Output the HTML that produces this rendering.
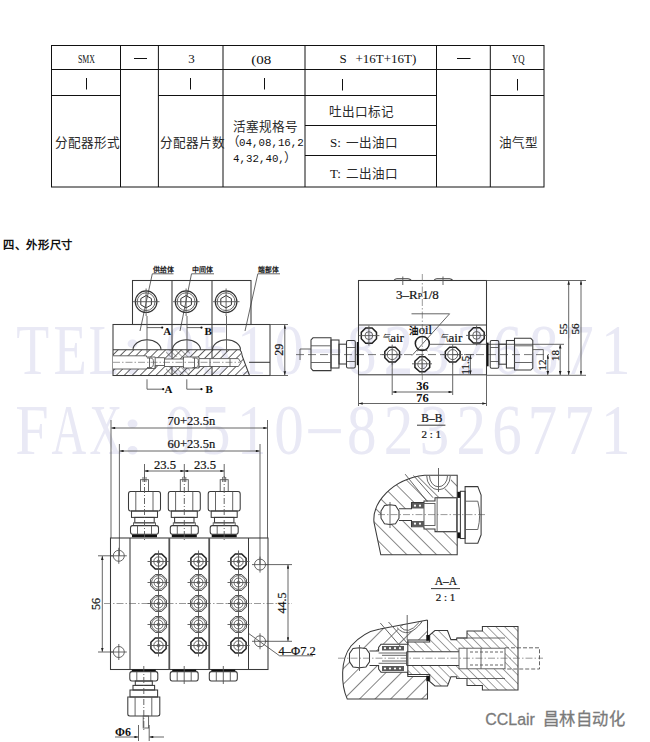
<!DOCTYPE html>
<html lang="zh-CN"><head><meta charset="utf-8">
<style>
html,body{margin:0;padding:0;background:#fff;}
body{width:650px;height:742px;overflow:hidden;position:relative;font-family:"Liberation Serif",serif;}
svg{position:absolute;left:0;top:0;display:block;}
.wm{font-family:"Liberation Serif",serif;font-size:72px;fill:#e9e9f5;}
.tb{stroke:#111;stroke-width:1;fill:none;}
.t13{font-family:"Liberation Serif",serif;font-size:13px;fill:#111;font-weight:300;}
.ln{stroke:#3a3a3a;stroke-width:1.05;fill:none;}
.th{stroke:#555;stroke-width:0.9;fill:none;}
.cl{stroke:#555;stroke-width:0.6;fill:none;stroke-dasharray:7 2 1.5 2;}
.dt{font-family:"Liberation Serif",serif;fill:#222;}
</style></head>
<body>
<svg width="650" height="742" viewBox="0 0 650 742">
<defs>
 <marker id="ar" viewBox="0 0 6 4" refX="6" refY="2" markerWidth="4.6" markerHeight="2.6" orient="auto-start-reverse" markerUnits="userSpaceOnUse"><path d="M0,0 L6,2 L0,4z" fill="#222"/></marker>
 <pattern id="h45" width="11" height="11" patternUnits="userSpaceOnUse" patternTransform="rotate(45)"><line x1="0" y1="0" x2="0" y2="11" stroke="#2a2a2a" stroke-width="1.15"/></pattern>
 <pattern id="h135b" width="6.2" height="6.2" patternUnits="userSpaceOnUse" patternTransform="rotate(-45)"><line x1="0" y1="0" x2="0" y2="6.2" stroke="#333" stroke-width="0.9"/></pattern>
 <pattern id="h135" width="10.5" height="10.5" patternUnits="userSpaceOnUse" patternTransform="rotate(-45)"><line x1="0" y1="0" x2="0" y2="10.5" stroke="#2a2a2a" stroke-width="1.1"/></pattern>
 <pattern id="hs" width="5.6" height="5.6" patternUnits="userSpaceOnUse" patternTransform="rotate(45)"><line x1="0" y1="0" x2="0" y2="5.6" stroke="#333" stroke-width="1.5"/></pattern>
 <pattern id="hsr" width="4" height="4" patternUnits="userSpaceOnUse" patternTransform="rotate(-45)"><line x1="0" y1="0" x2="0" y2="4" stroke="#444" stroke-width="0.9"/></pattern>
</defs>

<!-- WATERMARK -->
<g class="wm">
<text transform="translate(16.3 374) scale(0.748 1)">T</text>
<text transform="translate(53.5 374) scale(0.755 1)">E</text>
<text transform="translate(88.8 374) scale(0.705 1)">L</text>
<text transform="translate(121.0 374) scale(1.163 1)">:</text>
<text transform="translate(165.0 374) scale(0.82 1)">0</text>
<text transform="translate(201.0 374) scale(0.82 1)">5</text>
<text transform="translate(237.0 374) scale(0.82 1)">1</text>
<text transform="translate(274.2 374) scale(0.82 1)">0</text>
<rect x="308.2" y="349.1" width="32.7" height="4.1"/>
<text transform="translate(347.0 374) scale(0.82 1)">8</text>
<text transform="translate(383.8 374) scale(0.82 1)">2</text>
<text transform="translate(419.8 374) scale(0.82 1)">3</text>
<text transform="translate(456.6 374) scale(0.82 1)">2</text>
<text transform="translate(492.2 374) scale(0.82 1)">6</text>
<text transform="translate(529.0 374) scale(0.82 1)">8</text>
<text transform="translate(564.2 374) scale(0.82 1)">7</text>
<text transform="translate(601.0 374) scale(0.82 1)">1</text>
<text transform="translate(15.3 454) scale(0.833 1)">F</text>
<text transform="translate(51.6 454) scale(0.667 1)">A</text>
<text transform="translate(89.6 454) scale(0.628 1)">X</text>
<text transform="translate(121.0 454) scale(1.163 1)">:</text>
<text transform="translate(165.0 454) scale(0.82 1)">0</text>
<text transform="translate(201.0 454) scale(0.82 1)">5</text>
<text transform="translate(237.0 454) scale(0.82 1)">1</text>
<text transform="translate(274.2 454) scale(0.82 1)">0</text>
<rect x="308.2" y="429.1" width="32.7" height="4.1"/>
<text transform="translate(347.0 454) scale(0.82 1)">8</text>
<text transform="translate(383.8 454) scale(0.82 1)">2</text>
<text transform="translate(419.8 454) scale(0.82 1)">3</text>
<text transform="translate(456.6 454) scale(0.82 1)">2</text>
<text transform="translate(492.2 454) scale(0.82 1)">6</text>
<text transform="translate(527.8 454) scale(0.82 1)">7</text>
<text transform="translate(564.2 454) scale(0.82 1)">7</text>
<text transform="translate(601.0 454) scale(0.82 1)">1</text>
</g>

<!-- TABLE -->
<g class="tb">
 <rect x="51.5" y="45.5" width="492.5" height="141.5"/>
 <line x1="120.5" y1="45.5" x2="120.5" y2="187"/>
 <line x1="158.4" y1="45.5" x2="158.4" y2="187"/>
 <line x1="223" y1="45.5" x2="223" y2="187"/>
 <line x1="305" y1="45.5" x2="305" y2="187"/>
 <line x1="436.5" y1="45.5" x2="436.5" y2="187"/>
 <line x1="490.3" y1="45.5" x2="490.3" y2="187"/>
 <line x1="51.5" y1="69.5" x2="544" y2="69.5"/>
 <line x1="51.5" y1="95.5" x2="120.5" y2="95.5"/>
 <line x1="158.4" y1="95.5" x2="436.5" y2="95.5"/>
 <line x1="490.3" y1="95.5" x2="544" y2="95.5"/>
 <line x1="305" y1="125.5" x2="436.5" y2="125.5"/>
 <line x1="305" y1="155.5" x2="436.5" y2="155.5"/>
</g>
<g class="t13">
 <text x="86.5" y="62.8" text-anchor="middle" textLength="17" lengthAdjust="spacingAndGlyphs" style="font-size:12.8px">SMX</text>
 <line x1="134" y1="58.5" x2="147" y2="58.5" stroke="#111" stroke-width="1"/>
 <text x="191.5" y="63.2" text-anchor="middle">3</text>
 <text x="251.3" y="64" textLength="20" lengthAdjust="spacingAndGlyphs" style="font-size:13.5px">(08</text>
 <text x="339.5" y="63">S</text>
 <text x="355.5" y="63">+16T+16T)</text>
 <line x1="457" y1="58.5" x2="470.5" y2="58.5" stroke="#111" stroke-width="1"/>
 <text x="518.3" y="63.2" text-anchor="middle" textLength="12.6" lengthAdjust="spacingAndGlyphs" style="font-size:12.8px">YQ</text>
 <line x1="86.5" y1="78" x2="86.5" y2="89.5" stroke="#111" stroke-width="1"/>
 <line x1="190.5" y1="78" x2="190.5" y2="89.5" stroke="#111" stroke-width="1"/>
 <line x1="264.5" y1="78" x2="264.5" y2="89.5" stroke="#111" stroke-width="1"/>
 <line x1="342.5" y1="79" x2="342.5" y2="90.5" stroke="#111" stroke-width="1"/>
 <line x1="517.5" y1="79" x2="517.5" y2="90.5" stroke="#111" stroke-width="1"/>
 <g style="fill:#2a2a2a;font-size:12.6px">
 <text x="55.3" y="147">分配器形式</text>
 <text x="159.8" y="147">分配器片数</text>
 <text x="233" y="130.6">活塞规格号</text>
 <text x="227" y="146">（</text>
 <text x="284" y="162">）</text>
 <text x="328.5" y="116">吐出口标记</text>
 <text x="346" y="146.5">一出油口</text>
 <text x="346" y="177.5">二出油口</text>
 <text x="499.3" y="147">油气型</text>
 </g>
 <g style="font-family:'Liberation Mono',monospace;font-size:10.8px;fill:#111">
 <text x="239" y="145.8">04,08,16,2</text>
 <text x="233" y="161.8">4,32,40,</text>
 </g>
 <text x="330" y="146.5">S:</text>
 <text x="330" y="177.5">T:</text>
</g>

<!-- HEADING -->
<text x="3" y="248.8" textLength="70" lengthAdjust="spacingAndGlyphs" style="font-family:'Liberation Sans',sans-serif;font-size:11.6px;font-weight:bold;fill:#111">四、外形尺寸</text>

<!-- SIDE VIEW -->
<g id="sv">
 <g style="font-size:7px;fill:#222;font-weight:bold" font-family="Liberation Serif, serif">
  <text x="152.5" y="272.3" textLength="21" lengthAdjust="spacingAndGlyphs">供给体</text>
  <text x="191.8" y="272.3" textLength="21" lengthAdjust="spacingAndGlyphs">中间体</text>
  <text x="258.2" y="272.3" textLength="20.5" lengthAdjust="spacingAndGlyphs">端部体</text>
 </g>
 <g class="th">
  <polyline points="173.5,273.8 152.3,273.8 140,331"/>
  <polyline points="214,273.8 191.5,273.8 180,331"/>
  <polyline points="280,273.8 257.8,273.8 245,331"/>
 </g>
 <g class="ln">
  <rect x="132.5" y="280.5" width="118.5" height="44"/>
  <line x1="172" y1="280.5" x2="172" y2="375.5"/>
  <line x1="212" y1="280.5" x2="212" y2="375.5"/>
  <rect x="113" y="324.5" width="157" height="51"/>
  <line x1="249" y1="362.3" x2="270" y2="362.3"/>
 </g>
 <!-- circles -->
 <g id="c1" class="th">
  <circle cx="146.1" cy="301.7" r="10.8" style="stroke:#333;stroke-width:1.2"/>
  <circle cx="146.1" cy="301.7" r="8.9"/>
  <polygon points="146.1,295.5 151.4,298.6 151.4,304.8 146.1,307.9 140.8,304.8 140.8,298.6" style="stroke:#333;stroke-width:1"/>
  <line x1="133" y1="301.7" x2="159.5" y2="301.7"/>
  <line x1="146.1" y1="288.5" x2="146.1" y2="316"/>
 </g>
 <use href="#c1" x="40"/>
 <use href="#c1" x="80"/>
 <!-- hatched section -->
 <path d="M113,349.8 H240 Q242.2,352 242.2,356 L249.5,375.5 H113 Z" fill="url(#hs)" stroke="none"/>
 <path d="M166,349.8 H190 V357 H166 Z M166,366.5 H190 V375.5 H166 Z" fill="url(#hsr)" stroke="none"/>
 <path d="M113,355.8 H146.5 V357 H155.2 V357.7 H164.5 V359 H183.4 V357 H199 V358.6 H238.4 L241,362.5 L238.4,366.5 H199 V368 H183.4 V366.5 H164.5 V365.5 H155.2 V368.5 H146.5 V369 H113 Z" fill="#fff" stroke="none"/>
 <g class="ln">
  <path d="M113,349.8 H240 Q242.2,352 242.2,356 L249.5,375.5" fill="none"/>
  <path d="M113,355.8 H146.5 V357 H155.2 V357.7 H164.5 V359 H183.4 V357 H199 V358.6 H238.4 L241,362.5 L238.4,366.5 H199 V368 H183.4 V366.5 H164.5 V365.5 H155.2 V368.5 H146.5 V369 H113" fill="none" class="th"/>
  <line x1="155.2" y1="357.7" x2="155.2" y2="368.5" class="th"/>
  <line x1="164.5" y1="359" x2="164.5" y2="366.5" class="th"/>
  <line x1="183.4" y1="357" x2="183.4" y2="368" class="th"/>
  <line x1="199" y1="358.6" x2="199" y2="368" class="th"/>
  <line x1="210" y1="358.6" x2="210" y2="366.5" class="th"/>
  <line x1="230" y1="358.6" x2="230" y2="366.5" class="th"/>
  <path d="M147,358 H151 Q153.5,358 153.5,362.5 Q153.5,367.5 151,367.5 H147" class="th"/>
  <path d="M192.5,358 H196 Q198.5,358 198.5,362.5 Q198.5,367.5 196,367.5 H192.5" class="th"/>
  <line x1="149.5" y1="358" x2="149.5" y2="367.5" class="th"/>
  <line x1="194.5" y1="358" x2="194.5" y2="367.5" class="th"/>
 </g>
 <line x1="113" y1="362.3" x2="240" y2="362.3" class="cl"/>
 <!-- domes -->
 <g class="ln">
  <path d="M133,349.8 A14,10 0 0,1 161,349.8"/>
  <path d="M172.5,349.8 A14,10 0 0,1 200.5,349.8"/>
  <path d="M212.5,349.8 A14,10 0 0,1 240.5,349.8"/>
 </g>
 <!-- section marks -->
 <g class="th">
  <line x1="147" y1="316" x2="147" y2="352"/>
  <line x1="187" y1="316" x2="187" y2="352"/>
  <line x1="226.5" y1="316" x2="226.5" y2="352"/>
  <polyline points="147,379.3 147,389.2 163,389.2"/>
  <polyline points="186.8,379.3 186.8,389.2 201.5,389.2"/>
  <line x1="147" y1="327.6" x2="162" y2="327.6"/>
  <line x1="187" y1="327.6" x2="201.5" y2="327.6"/>
 </g>
 <g fill="#111">
  <circle cx="162.2" cy="327.6" r="1.1"/><circle cx="201.5" cy="327.6" r="1.1"/>
  <circle cx="163.2" cy="389.2" r="1.1"/><circle cx="201.5" cy="389.2" r="1.1"/>
 </g>
 <g style="font-size:11px;fill:#111;font-weight:bold" font-family="Liberation Serif, serif">
  <text x="163.3" y="335.4">A</text><text x="204.5" y="335.4">B</text>
  <text x="164.5" y="393">A</text><text x="205.5" y="393">B</text>
 </g>
 <!-- dim 29 -->
 <g class="th">
  <line x1="270" y1="324.5" x2="288" y2="324.5"/>
  <line x1="270" y1="375.5" x2="288" y2="375.5"/>
  <line x1="284.8" y1="324.8" x2="284.8" y2="375.2" marker-start="url(#ar)" marker-end="url(#ar)"/>
 </g>
 <text transform="translate(283.2 349.7) rotate(-90)" text-anchor="middle" style="font-size:12px;fill:#111;font-weight:normal;stroke:#1a1a1a;stroke-width:0.22px" font-family="Liberation Serif, serif">29</text>
</g>

<!-- FRONT VIEW -->
<g id="fv">
 <defs>
  <g id="hexnut">
   <polygon points="-7.6,-3.2 -3.2,-7.6 3.2,-7.6 7.6,-3.2 7.6,3.2 3.2,7.6 -3.2,7.6 -7.6,3.2" stroke="#222" stroke-width="1.5" fill="none"/>
   <circle r="3.9" class="th"/>
   <line x1="-10.5" y1="0" x2="10.5" y2="0" class="th"/>
   <line x1="0" y1="-10" x2="0" y2="10" class="th" stroke="#999"/>
  </g>
  <g id="airport">
   <polygon points="-7.4,-3.1 -3.1,-7.4 3.1,-7.4 7.4,-3.1 7.4,3.1 3.1,7.4 -3.1,7.4 -7.4,3.1" stroke="#222" stroke-width="1.5" fill="none"/>
   <circle r="5" class="th"/>
   <line x1="-10" y1="0" x2="10" y2="0" class="th"/>
   <line x1="0" y1="-10" x2="0" y2="10" class="th"/>
  </g>
 </defs>
 <g class="ln">
  <rect x="358.5" y="280.5" width="128" height="94.3"/>
  <line x1="358.5" y1="325" x2="486.5" y2="325"/>
  <path d="M394,280.5 Q395,278.8 397,278.8 H408 Q410,278.8 411.5,280.5" />
  <path d="M434,280.5 Q435,278.8 437,278.8 H449.5 Q451.5,278.8 453,280.5" />
 </g>
 <g class="th">
  <line x1="402.8" y1="276.5" x2="402.8" y2="285"/>
  <line x1="443" y1="276.5" x2="443" y2="285"/>
  <polyline points="411.5,313.8 449.6,313.8 412,355.5"/>
  <line x1="486.5" y1="280.5" x2="586" y2="280.5"/>
  <line x1="486.5" y1="375.3" x2="586" y2="375.3"/>
  <line x1="430" y1="344.3" x2="564" y2="344.3"/>
  <line x1="358.5" y1="374.8" x2="358.5" y2="406"/>
  <line x1="486.5" y1="374.8" x2="486.5" y2="406"/>
  <line x1="392.2" y1="362" x2="392.2" y2="395"/>
  <line x1="452.7" y1="362" x2="452.7" y2="395"/>
  <line x1="392.5" y1="392" x2="452.4" y2="392" marker-start="url(#ar)" marker-end="url(#ar)"/>
  <line x1="358.8" y1="403.5" x2="486.2" y2="403.5" marker-start="url(#ar)" marker-end="url(#ar)"/>
  <line x1="470.4" y1="355" x2="470.4" y2="374.5" marker-start="url(#ar)" marker-end="url(#ar)"/>
  <line x1="547.8" y1="354.8" x2="547.8" y2="375" marker-start="url(#ar)" marker-end="url(#ar)"/>
  <line x1="560.2" y1="344.6" x2="560.2" y2="375" marker-start="url(#ar)" marker-end="url(#ar)"/>
  <line x1="568.7" y1="280.8" x2="568.7" y2="375" marker-start="url(#ar)" marker-end="url(#ar)"/>
  <line x1="581" y1="280.8" x2="581" y2="375" marker-start="url(#ar)" marker-end="url(#ar)"/>
  <line x1="466" y1="354.6" x2="474" y2="354.6"/>
 </g>
 <line x1="422.3" y1="274" x2="422.3" y2="380" class="cl"/>
 <line x1="296" y1="354.6" x2="549" y2="354.6" style="stroke:#555;stroke-width:0.8;stroke-dasharray:8 4;fill:none"/>
 <use href="#hexnut" x="368.9" y="335.6"/>
 <use href="#hexnut" x="476.6" y="335.4"/>
 <use href="#airport" x="392.2" y="354.6"/>
 <use href="#airport" x="452.7" y="354.6"/>
 <g class="ln">
  <circle cx="422.3" cy="343.5" r="7" stroke="#222" stroke-width="1.5"/>
  <path d="M417,351 Q422.3,347.5 427.5,351" class="th"/>
  <polygon points="414.9,361.3 419.8,356.8 424.8,356.8 429.7,361.3 429.7,367.3 424.8,371.8 419.8,371.8 414.9,367.3" stroke="#222" stroke-width="1.5"/>
 </g>
 <g class="th">
  <circle cx="422.3" cy="364.3" r="4.5"/>
  <line x1="412" y1="363.8" x2="432" y2="363.8"/>
  <line x1="422" y1="354" x2="422" y2="374"/>
 </g>
 <!-- left fitting -->
 <g class="ln">
  <rect x="356.8" y="342" width="1.8" height="23.2" fill="#111" stroke="none"/>
  <rect x="346.5" y="340.5" width="8.8" height="27.5" rx="1.5"/>
  <line x1="346.5" y1="347.5" x2="355.3" y2="347.5" class="th"/>
  <line x1="346.5" y1="361.5" x2="355.3" y2="361.5" class="th"/>
  <rect x="339" y="344.2" width="7.5" height="19.8"/>
  <rect x="331" y="340" width="8" height="28"/>
  <path d="M331,337.8 H313 L311,340 V368.4 L313,370.6 H331 Z"/>
  <line x1="311" y1="345.8" x2="331" y2="345.8" class="th"/>
  <line x1="311" y1="362.5" x2="331" y2="362.5" class="th"/>
  <polyline points="311,349 300,349 300,360" class="th"/>
 </g>
 <!-- right fitting -->
 <g class="ln">
  <rect x="486.8" y="342.6" width="1.8" height="23.7" fill="#111" stroke="none"/>
  <rect x="490.2" y="340.5" width="8.6" height="27.7" rx="1.5"/>
  <line x1="490.2" y1="347.5" x2="498.8" y2="347.5" class="th"/>
  <line x1="490.2" y1="361.5" x2="498.8" y2="361.5" class="th"/>
  <rect x="498.8" y="344.2" width="7.6" height="20"/>
  <rect x="506.4" y="340.5" width="8.1" height="27.5"/>
  <path d="M514.5,338.3 H530.8 L532.8,340.5 V368 L530.8,370 H514.5 Z"/>
  <line x1="514.5" y1="345.8" x2="532.8" y2="345.8" class="th"/>
  <line x1="514.5" y1="362.5" x2="532.8" y2="362.5" class="th"/>
  <polyline points="532.8,349.6 543.3,349.6 543.3,360" class="th"/>
 </g>
 <g style="fill:#111;font-weight:bold" font-family="Liberation Serif, serif">
  <text x="396" y="299" style="font-size:13px;font-weight:normal;stroke:#1a1a1a;stroke-width:0.22px">3–R<tspan style="font-size:8px">P</tspan>1/8</text>
  <text x="409.3" y="334" style="font-size:9.5px">油</text>
  <text x="418.8" y="333.5" style="font-size:12.5px;font-weight:normal;stroke:#1a1a1a;stroke-width:0.22px">oil</text>
  <text x="383" y="340.5" style="font-size:8px;font-weight:normal">气</text>
  <text x="390.2" y="342" style="font-size:13px;font-weight:normal;stroke:#1a1a1a;stroke-width:0.22px">air</text>
  <text x="441.3" y="340.5" style="font-size:8px;font-weight:normal">气</text>
  <text x="448.5" y="342" style="font-size:13px;font-weight:normal;stroke:#1a1a1a;stroke-width:0.22px">air</text>
  <text x="422.5" y="390" text-anchor="middle" style="font-size:12.5px">36</text>
  <text x="422.5" y="402.3" text-anchor="middle" style="font-size:12.5px">76</text>
  <text transform="translate(469.2 365.2) rotate(-90)" text-anchor="middle" style="font-size:11px;font-weight:normal;stroke:#1a1a1a;stroke-width:0.22px">11.5</text>
  <text transform="translate(546 365) rotate(-90)" text-anchor="middle" style="font-size:11px;font-weight:normal;stroke:#1a1a1a;stroke-width:0.22px">12</text>
  <text transform="translate(558.5 355.5) rotate(-90)" text-anchor="middle" style="font-size:11px;font-weight:normal;stroke:#1a1a1a;stroke-width:0.22px">18</text>
  <text transform="translate(566.6 329) rotate(-90)" text-anchor="middle" style="font-size:11px;font-weight:normal;stroke:#1a1a1a;stroke-width:0.22px">55</text>
  <text transform="translate(578.8 329) rotate(-90)" text-anchor="middle" style="font-size:11px;font-weight:normal;stroke:#1a1a1a;stroke-width:0.22px">56</text>
 </g>
</g>

<!-- TOP VIEW -->
<g id="tv">
 <defs>
  <g id="port">
   <polygon points="-7.6,-3.2 -3.2,-7.6 3.2,-7.6 7.6,-3.2 7.6,3.2 3.2,7.6 -3.2,7.6 -7.6,3.2" stroke="#222" stroke-width="1.5" fill="none"/>
   <circle r="4.7" class="th"/>
   <circle r="1.5" class="th"/>
   <line x1="-11" y1="0" x2="11" y2="0" class="th"/>
   <line x1="0" y1="-11" x2="0" y2="11" class="th"/>
  </g>
  <g id="port2">
   <polygon points="-7.9,-3.3 -3.3,-7.9 3.3,-7.9 7.9,-3.3 7.9,3.3 3.3,7.9 -3.3,7.9 -7.9,3.3" stroke="#444" stroke-width="1" fill="none"/>
   <circle r="6.9" class="th"/>
   <circle r="4.5" class="th"/>
   <circle r="1.5" class="th"/>
   <line x1="-11" y1="0" x2="11" y2="0" class="th"/>
   <line x1="0" y1="-11" x2="0" y2="11" class="th"/>
  </g>
  <g id="mhole">
   <circle r="5.5" class="th"/>
   <line x1="-8" y1="0" x2="8" y2="0" class="th"/>
   <line x1="0" y1="-8" x2="0" y2="8" class="th"/>
  </g>
  <g id="topfit">
   <rect x="-4" y="479.7" width="8" height="11.8" class="th"/>
   <line x1="-1.5" y1="477" x2="-1.5" y2="482" class="th"/>
   <line x1="1.5" y1="477" x2="1.5" y2="482" class="th"/>
   <path d="M-14,491.5 H14 Q16,491.5 16,494 V508.5 Q16,511 14,511 H-14 Q-16,511 -16,508.5 V494 Q-16,491.5 -14,491.5 Z" class="ln"/>
   <line x1="-8.7" y1="491.5" x2="-8.7" y2="511" class="th"/>
   <line x1="8.5" y1="491.5" x2="8.5" y2="511" class="th"/>
   <rect x="-13" y="511" width="26" height="6.4" class="ln"/>
   <rect x="-9.7" y="517.4" width="19.4" height="5.4" class="ln"/>
   <rect x="-11" y="522.8" width="22" height="2.8" class="th"/>
   <path d="M-12,525.6 H12 Q14,525.6 14,528 V531.8 Q14,534.2 12,534.2 H-12 Q-14,534.2 -14,531.8 V528 Q-14,525.6 -12,525.6 Z" class="ln"/>
   <line x1="-7" y1="525.6" x2="-7" y2="534.2" class="th"/>
   <line x1="7" y1="525.6" x2="7" y2="534.2" class="th"/>
   <rect x="-12.5" y="534.6" width="25" height="2.6" fill="#111"/>
   <line x1="0" y1="476" x2="0" y2="540" class="th" stroke-dasharray="6 2 1 2"/>
  </g>
  <g id="botnut">
   <rect x="-12" y="669.6" width="24" height="2" fill="#111"/>
   <path d="M-12,671.6 H12 Q14,671.6 14,674 V678.5 Q14,681 12,681 H-12 Q-14,681 -14,678.5 V674 Q-14,671.6 -12,671.6 Z" class="ln"/>
   <line x1="-7" y1="671.6" x2="-7" y2="681" class="th"/>
   <line x1="7" y1="671.6" x2="7" y2="681" class="th"/>
   <line x1="0" y1="666" x2="0" y2="684" class="th"/>
  </g>
 </defs>
 <g class="th">
  <line x1="111" y1="420" x2="111" y2="538"/>
  <line x1="267.5" y1="420" x2="267.5" y2="538"/>
  <line x1="119.4" y1="444" x2="119.4" y2="556"/>
  <line x1="260" y1="444" x2="260" y2="565"/>
  <line x1="111.3" y1="428" x2="267.2" y2="428" marker-start="url(#ar)" marker-end="url(#ar)"/>
  <line x1="119.7" y1="451" x2="259.7" y2="451" marker-start="url(#ar)" marker-end="url(#ar)"/>
  <line x1="144.5" y1="471" x2="184.3" y2="471" marker-start="url(#ar)" marker-end="url(#ar)"/>
  <line x1="184.3" y1="471" x2="224.2" y2="471" marker-start="url(#ar)" marker-end="url(#ar)"/>
  <line x1="144.5" y1="464" x2="144.5" y2="478"/>
  <line x1="184.3" y1="464" x2="184.3" y2="478"/>
  <line x1="224.2" y1="464" x2="224.2" y2="478"/>
  <line x1="98" y1="555.8" x2="113" y2="555.8"/>
  <line x1="98" y1="652" x2="113" y2="652"/>
  <line x1="102.3" y1="556" x2="102.3" y2="651.8" marker-start="url(#ar)" marker-end="url(#ar)"/>
  <line x1="265" y1="564.6" x2="292" y2="564.6"/>
  <line x1="265" y1="641.3" x2="292" y2="641.3"/>
  <line x1="288" y1="564.8" x2="288" y2="641.1" marker-start="url(#ar)" marker-end="url(#ar)"/>
  <polyline points="248.8,633.6 279.6,655.8 313,655.8"/>
 </g>
 <g class="ln">
  <rect x="110.5" y="538" width="157.5" height="131.5"/>
  <line x1="130" y1="538" x2="130" y2="669.5"/>
  <line x1="169.3" y1="538" x2="169.3" y2="669.5" stroke-width="1.8" stroke="#555"/>
  <line x1="209.2" y1="538" x2="209.2" y2="669.5" stroke-width="1.8" stroke="#555"/>
  <line x1="248.5" y1="538" x2="248.5" y2="669.5"/>
 </g>
 <line x1="104" y1="603.5" x2="292" y2="603.5" class="cl"/>
 <use href="#mhole" x="118.8" y="555.8"/>
 <use href="#mhole" x="118.8" y="652"/>
 <use href="#mhole" x="260" y="564.6"/>
 <use href="#mhole" x="260" y="641.3"/>
 <use href="#port" x="158.5" y="561.5"/>
 <use href="#port2" x="158.5" y="582.5"/>
 <use href="#port2" x="158.5" y="603.5"/>
 <use href="#port2" x="158.5" y="624.5"/>
 <use href="#port" x="158.5" y="645.5"/>
 <use href="#port" x="198.5" y="561.5"/>
 <use href="#port2" x="198.5" y="582.5"/>
 <use href="#port2" x="198.5" y="603.5"/>
 <use href="#port2" x="198.5" y="624.5"/>
 <use href="#port" x="198.5" y="645.5"/>
 <use href="#port" x="238.5" y="561.5"/>
 <use href="#port2" x="238.5" y="582.5"/>
 <use href="#port2" x="238.5" y="603.5"/>
 <use href="#port2" x="238.5" y="624.5"/>
 <use href="#port" x="238.5" y="645.5"/>
 <use href="#topfit" x="144.5"/>
 <use href="#topfit" x="184.3"/>
 <use href="#topfit" x="224.2"/>
 <use href="#botnut" x="184.2"/>
 <use href="#botnut" x="223.3"/>
 <g transform="translate(143.8 0)">
  <rect x="-12" y="669.6" width="24" height="2" fill="#111"/>
  <path d="M-12,671.6 H12 Q14,671.6 14,674 V678.5 Q14,681 12,681 H-12 Q-14,681 -14,678.5 V674 Q-14,671.6 -12,671.6 Z" class="ln"/>
  <line x1="-7" y1="671.6" x2="-7" y2="681" class="th"/>
  <line x1="7" y1="671.6" x2="7" y2="681" class="th"/>
  <rect x="-8.5" y="681" width="17" height="4.4" class="ln"/>
  <rect x="-10.8" y="685.4" width="21.6" height="4.6" class="ln"/>
  <rect x="-13.8" y="690" width="27.6" height="7" class="ln"/>
  <path d="M-16,697 H16 V714 Q16,716 14,716 H-14 Q-16,716 -16,714 Z" class="ln"/>
  <line x1="-8.7" y1="697" x2="-8.7" y2="716" class="th"/>
  <line x1="8" y1="697" x2="8" y2="716" class="th"/>
  <rect x="-0.6" y="716" width="5.4" height="12" class="th"/>
  <line x1="0" y1="666" x2="0" y2="730" class="th" stroke-dasharray="6 2 1 2"/>
 </g>
 <g class="th">
  <line x1="138.5" y1="725" x2="138.5" y2="741"/>
  <line x1="149.2" y1="725" x2="149.2" y2="741"/>
  <line x1="115" y1="737" x2="138.3" y2="737" marker-end="url(#ar)"/>
  <line x1="164" y1="737" x2="149.4" y2="737" marker-end="url(#ar)"/>
 </g>
 <g style="fill:#111;font-weight:bold" font-family="Liberation Serif, serif">
  <text x="191.4" y="425.2" text-anchor="middle" style="font-size:12.5px;font-weight:normal;stroke:#1a1a1a;stroke-width:0.22px">70+23.5n</text>
  <text x="191.4" y="448.2" text-anchor="middle" style="font-size:12.5px;font-weight:normal;stroke:#1a1a1a;stroke-width:0.22px">60+23.5n</text>
  <text x="165" y="469" text-anchor="middle" style="font-size:12.6px;font-weight:normal;stroke:#1a1a1a;stroke-width:0.22px">23.5</text>
  <text x="205" y="469" text-anchor="middle" style="font-size:12.6px;font-weight:normal;stroke:#1a1a1a;stroke-width:0.22px">23.5</text>
  <text transform="translate(99.5 604) rotate(-90)" text-anchor="middle" style="font-size:12px;font-weight:normal;stroke:#1a1a1a;stroke-width:0.22px">56</text>
  <text transform="translate(285.5 603) rotate(-90)" text-anchor="middle" style="font-size:12px;font-weight:normal;stroke:#1a1a1a;stroke-width:0.22px">44.5</text>
  <text x="278.6" y="654.6" style="font-size:12.5px;font-weight:normal;stroke:#1a1a1a;stroke-width:0.22px">4–Φ7.2</text>
  <text x="115" y="736" style="font-size:12px">Φ6</text>
 </g>
</g>
<!-- SECTION B-B -->
<g id="bb">
 <g style="fill:#111;font-weight:bold" font-family="Liberation Serif, serif">
  <text x="431.8" y="422.2" text-anchor="middle" style="font-size:11.5px;font-weight:normal;stroke:#1a1a1a;stroke-width:0.22px">B–B</text>
  <text x="431.2" y="437.6" text-anchor="middle" style="font-size:11px;font-weight:normal;stroke:#1a1a1a;stroke-width:0.22px">2 : 1</text>
 </g>
 <line x1="417" y1="425.2" x2="445.4" y2="425.2" stroke="#222" stroke-width="0.9"/>
 <clipPath id="bbclip"><path d="M424.6,475.3 H457.2 V554.8 H380.8 L374,522.4 C372,503 392,479 424.6,475.3 Z"/></clipPath>
 <path d="M424.6,475.3 H457.2 V554.8 H380.8 L374,522.4 C372,503 392,479 424.6,475.3 Z" fill="url(#h135)" stroke="none"/>
 <!-- cavity -->
 <g fill="#fff" stroke="none">
  <circle cx="390" cy="514.6" r="9.3"/>
  <rect x="398" y="508.8" width="14" height="12.4"/>
  <rect x="411.5" y="502.5" width="13" height="24.3"/>
  <rect x="424" y="501" width="12" height="28"/>
  <rect x="435" y="497.7" width="22.3" height="34"/>
  <path d="M426.7,475.3 A11.8,14 0 0,0 451.6,475.3 Z"/>
 </g>
 <g class="ln">
  <path d="M424.6,475.3 H457.2 V554.8 H380.8 L374,522.4 C372,503 392,479 424.6,475.3 Z"/>
  <polygon points="381,511 384.5,505.5 390,504.8 395.5,505.5 399,511 399,518.2 395.5,523.7 390,524.4 384.5,523.7 381,518.2"/>
  <polyline points="399,508.8 411.5,508.8 411.5,502.5 424,502.5 424,501 435,501 435,497.7 457,497.7"/>
  <polyline points="399,520.4 411.5,520.4 411.5,526.8 424,526.8 424,529 435,529 435,531.6 457,531.6"/>
  <rect x="424" y="503.5" width="11" height="22" class="th"/>
  <rect x="437.1" y="497.7" width="19.4" height="33.9" class="th"/>
  <path d="M426.7,475.8 A11.8,14 0 0,0 450.3,475.8" class="th"/>
  <path d="M429.5,475.8 A9,11 0 0,0 447.5,475.8" class="th"/>
 </g>
 <g fill="#5a5a5a">
  <rect x="412" y="503" width="12" height="5.5"/>
  <rect x="412" y="521" width="12" height="5.5"/>
 </g>
 <g fill="#fff">
  <circle cx="415" cy="505.7" r="1.1"/><circle cx="420" cy="505.7" r="1.1"/>
  <circle cx="415" cy="523.7" r="1.1"/><circle cx="420" cy="523.7" r="1.1"/>
 </g>
 <g class="th">
  <line x1="405.2" y1="474.2" x2="427.4" y2="501.9"/>
  <line x1="413.5" y1="475.5" x2="433" y2="497.7"/>
  <line x1="438.5" y1="468" x2="438.5" y2="492"/>
  <line x1="390" y1="502" x2="390" y2="528"/>
 </g>
 <line x1="378" y1="514.6" x2="487" y2="514.6" class="cl"/>
 <rect x="457.4" y="491.8" width="3" height="6.1" fill="#111"/>
 <rect x="457.4" y="532.4" width="3" height="5.8" fill="#111"/>
 <g class="ln">
  <rect x="460.4" y="491.3" width="4.7" height="47.2"/>
  <path d="M465.1,486.6 H477.8 L481.1,495 V534.8 L477.8,543.2 H465.1 Z"/>
  <line x1="465.1" y1="501.2" x2="477.8" y2="501.2" class="th"/>
  <line x1="465.1" y1="529.5" x2="477.8" y2="529.5" class="th"/>
  <path d="M477.8,501.2 Q481.5,515 477.8,529.5" class="th"/>
 </g>
</g>

<!-- SECTION A-A -->
<g id="aa">
 <g style="fill:#111;font-weight:bold" font-family="Liberation Serif, serif">
  <text x="446" y="584.8" text-anchor="middle" style="font-size:11.5px;font-weight:normal;stroke:#1a1a1a;stroke-width:0.22px">A–A</text>
  <text x="445.5" y="600.8" text-anchor="middle" style="font-size:11px;font-weight:normal;stroke:#1a1a1a;stroke-width:0.22px">2 : 1</text>
 </g>
 <line x1="431" y1="588.6" x2="460" y2="588.6" stroke="#222" stroke-width="0.9"/>
 <path d="M427.5,620 V698.9 H347.2 C341,685 340,660 351,646 C360,636 368,631 380,629 L427.5,620 Z" fill="url(#h45)" stroke="none"/>
 <g fill="#fff" stroke="none">
  <circle cx="359.5" cy="657.7" r="10"/>
  <rect x="368" y="651" width="12" height="14.4"/>
  <path d="M381,644.2 H407.8 V672.3 H381 L378,669 V647.5 Z"/>
  <rect x="407.8" y="640" width="20" height="36.5"/>
  <path d="M397,627.6 Q407.8,640 422,621.9 Z"/>
 </g>
 <!-- fitting body hatched -->
 <path d="M407.8,642 H429.7 V635 L434.9,630.5 H447.5 L450.9,639.6 H456.7 V637.9 H467 V631 H482.4 V626.5 H518 V690 H482.4 V685.4 H467 V678.5 H456.7 V676.8 H450.9 L447.5,685.9 H434.9 L429.7,681.4 V674.4 H407.8 Z" fill="url(#h135b)" stroke="none"/>
 <g fill="#fff" stroke="none">
  <rect x="406.7" y="651.7" width="53" height="13.7"/>
  <rect x="459" y="648.2" width="46" height="20.6"/>
 </g>
 <g class="ln">
  <path d="M427.5,620 V635 M427.5,681.4 V698.9 H347.2 C341,685 340,660 351,646 C360,636 368,631 380,629 L427.5,620"/>
  <polygon points="349.5,653.5 353,648.5 359.5,647.7 366,648.5 369.5,653.5 369.5,661.9 366,666.9 359.5,667.7 353,666.9 349.5,661.9"/>
  <polyline points="369.5,651 378.6,651 378.6,647.5 381,644.2 407.8,644.2 407.8,640 427.5,640"/>
  <polyline points="369.5,665.4 378.6,665.4 378.6,669 381,672.3 407.8,672.3 407.8,676.5 427.5,676.5"/>
  <path d="M407.8,642 H429.7 V635 L434.9,630.5 H447.5 L450.9,639.6 H456.7 V637.9 H467 V631 H482.4 V626.5 H518 V690 H482.4 V685.4 H467 V678.5 H456.7 V676.8 H450.9 L447.5,685.9 H434.9 L429.7,681.4 V674.4 H407.8 Z"/>
  <line x1="406.7" y1="651.7" x2="459" y2="651.7"/>
  <line x1="406.7" y1="665.4" x2="459" y2="665.4"/>
  <line x1="406.7" y1="651.7" x2="406.7" y2="665.4"/>
  <rect x="459" y="648.2" width="46" height="20.6" class="th"/>
  <line x1="467" y1="648.2" x2="467" y2="668.8" class="th"/>
  <line x1="481" y1="648.2" x2="481" y2="668.8" class="th"/>
  <path d="M397,627.6 Q407.8,640 422,621.9" class="th"/>
  <path d="M400,626.5 Q407.8,636 419,622.5" class="th"/>
  <line x1="457" y1="638" x2="505" y2="638" class="th"/>
  <line x1="457" y1="678.5" x2="505" y2="678.5" class="th"/>
 </g>
 <g class="th">
  <line x1="378.6" y1="653" x2="406.7" y2="653"/>
  <line x1="378.6" y1="663.3" x2="406.7" y2="663.3"/>
  <line x1="382" y1="655.3" x2="406.7" y2="655.3"/>
  <line x1="382" y1="661" x2="406.7" y2="661"/>
 </g>
 <g fill="#5a5a5a">
  <path d="M382,646 H404 V650.5 H382 Z"/>
  <path d="M382,666 H404 V671 H382 Z"/>
 </g>
 <g fill="#fff">
  <circle cx="385" cy="648.2" r="1.1"/><circle cx="390" cy="648.2" r="1.1"/><circle cx="395" cy="648.2" r="1.1"/><circle cx="400" cy="648.2" r="1.1"/>
  <circle cx="385" cy="668.5" r="1.1"/><circle cx="390" cy="668.5" r="1.1"/><circle cx="395" cy="668.5" r="1.1"/><circle cx="400" cy="668.5" r="1.1"/>
 </g>
 <g class="th">
  <line x1="380.3" y1="623" x2="401" y2="647"/>
  <line x1="388.5" y1="622" x2="408" y2="644"/>
  <line x1="407.2" y1="615" x2="407.2" y2="640"/>
  <line x1="359.5" y1="645" x2="359.5" y2="671"/>
  <path d="M505,647.8 H539.5 V669 H505" stroke-dasharray="4 2"/>
  <line x1="470" y1="652" x2="505" y2="652" stroke-dasharray="3 2"/>
  <line x1="470" y1="665" x2="505" y2="665" stroke-dasharray="3 2"/>
 </g>
 <line x1="338" y1="658.2" x2="543" y2="658.2" class="cl"/>
 <rect x="426.3" y="635" width="3.4" height="5.8" fill="#111"/>
 <rect x="426.3" y="675.7" width="3.4" height="5.7" fill="#111"/>
</g>
<!-- DRAWING_PLACEHOLDER -->

<!-- LOGO -->
<g style="font-family:'Liberation Sans',sans-serif;font-size:16.8px;fill:#7a7a7a;stroke:#7a7a7a;stroke-width:0.3px">
<text x="485.3" y="724.5" textLength="49.6" lengthAdjust="spacingAndGlyphs">CCLair</text>
<text x="542.6" y="724.5" textLength="82.5" lengthAdjust="spacingAndGlyphs">昌林自动化</text>
</g>
</svg>
</body></html>
